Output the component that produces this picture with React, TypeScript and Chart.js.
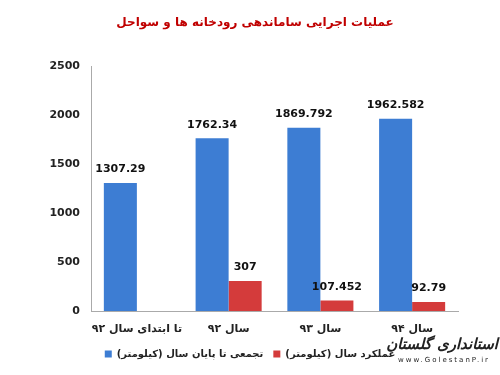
import React, { useEffect, useRef } from "react";
import { Chart, registerables } from "chart.js";

Chart.register(...registerables);

const categories = ["تا ابتدای سال ۹۲", "سال ۹۲", "سال ۹۳", "سال ۹۴"];
const cumulativeValues = [1307.29, 1762.34, 1869.792, 1962.582];
const annualValues: (number | null)[] = [null, 307, 107.452, 92.79];
const seriesNames = ["تجمعی تا پایان سال (کیلومتر)", "عملکرد سال (کیلومتر)"];
const yTicks = [0, 500, 1000, 1500, 2000, 2500];
const titleText = "عملیات اجرایی ساماندهی رودخانه ها و سواحل";

const FONT = "'DejaVu Sans', 'Liberation Sans', sans-serif";

const valueLabels = {
  id: "valueLabels",
  afterDatasetsDraw(chart: any) {
    const ctx = chart.ctx;
    ctx.save();
    ctx.font = `bold 11px ${FONT}`;
    ctx.fillStyle = "#111";
    ctx.textAlign = "center";
    ctx.textBaseline = "bottom";
    chart.data.datasets.forEach((ds: any, di: number) => {
      const meta = chart.getDatasetMeta(di);
      meta.data.forEach((el: any, i: number) => {
        const v = ds.data[i];
        if (v === null || v === undefined) return;
        ctx.fillText(String(v), el.x, el.y - 8);
      });
    });
    ctx.restore();
  },
};

export default function App() {
  const ref = useRef<HTMLCanvasElement>(null);
  useEffect(() => {
    document.body.style.margin = "0";
    const chart = new Chart(ref.current!, {
      type: "bar",
      data: {
        labels: categories,
        datasets: [
          {
            label: seriesNames[0],
            data: cumulativeValues,
            backgroundColor: "#3d7dd3",
            borderWidth: 0,
            categoryPercentage: 0.72,
            barPercentage: 1.0,
          },
          {
            label: seriesNames[1],
            data: annualValues,
            backgroundColor: "#d43b3b",
            borderWidth: 0,
            categoryPercentage: 0.72,
            barPercentage: 1.0,
          },
        ],
      },
      options: {
        animation: false,
        responsive: false,
        layout: { padding: { left: 0, right: 0, top: 66, bottom: 6 } },
        plugins: {
          title: { display: false },
          legend: {
            position: "bottom",
            labels: {
              boxWidth: 7,
              boxHeight: 7,
              padding: 10,
              color: "#222",
              font: { family: FONT, size: 10, weight: "bold" },
            },
          },
          tooltip: { enabled: false },
        },
        scales: {
          x: {
            grid: { display: false, drawTicks: false },
            border: { display: true, color: "#aaa" },
            ticks: {
              color: "#222",
              font: { family: FONT, size: 11, weight: "bold" },
              padding: 12,
              maxRotation: 0,
              minRotation: 0,
              autoSkip: false,
            },
            afterFit(scale: any) {
              scale.height = 28;
            },
          },
          y: {
            min: 0,
            max: 2500,
            afterBuildTicks(scale: any) {
              scale.ticks = yTicks.map((v) => ({ value: v }));
            },
            grid: { display: false, drawTicks: false },
            border: { display: true, color: "#aaa" },
            ticks: {
              color: "#222",
              font: { family: FONT, size: 11, weight: "bold" },
              padding: 11,
              callback: (v: any) => String(v),
            },
            afterFit(scale: any) {
              scale.width = 91;
            },
          },
          yRightSpace: {
            position: "right",
            min: 0,
            max: 2500,
            grid: { display: false, drawTicks: false },
            border: { display: false },
            ticks: { display: false },
            afterFit(scale: any) {
              scale.width = 42;
            },
          },
        },
      },
      plugins: [valueLabels],
    });
    return () => chart.destroy();
  }, []);

  return (
    <div style={{ position: "relative", width: 500, height: 375, background: "#fff" }}>
      <canvas ref={ref} width={500} height={375} />
      <div
        dir="rtl"
        style={{
          position: "absolute",
          left: 0,
          top: 12,
          width: 510,
          textAlign: "center",
          fontFamily: FONT,
          fontWeight: "bold",
          fontSize: 12,
          color: "#c00000",
          lineHeight: "20px",
        }}
      >
        {titleText}
      </div>
      <div
        style={{
          position: "absolute",
          left: 390,
          top: 334,
          width: 108,
          textAlign: "center",
          fontFamily: FONT,
          color: "#222",
          pointerEvents: "none",
          whiteSpace: "nowrap",
        }}
      >
        <div
          dir="rtl"
          style={{ fontSize: 15, fontStyle: "italic", fontWeight: "bold", lineHeight: "20px", letterSpacing: -1 }}
        >
          استانداری گلستان
        </div>
        <div style={{ fontSize: 7, letterSpacing: 2, lineHeight: "10px", marginTop: 1 }}>www.GolestanP.ir</div>
      </div>
    </div>
  );
}
